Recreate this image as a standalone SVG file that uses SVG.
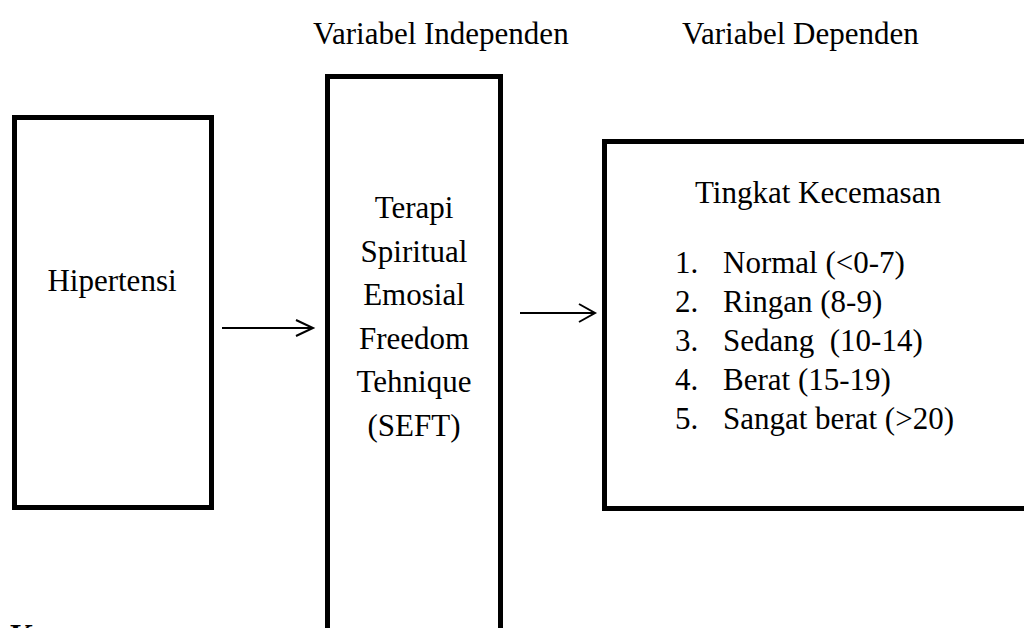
<svg xmlns="http://www.w3.org/2000/svg" width="1024" height="628" viewBox="0 0 1024 628">
<style>
.box{fill:#fff;stroke:#000;stroke-width:5}
.t{font-family:"Liberation Serif","Times New Roman",serif;font-size:31px;fill:#000;white-space:pre}
.c{text-anchor:middle}
.b{font-weight:bold}
.ln{fill:none;stroke:#000;stroke-width:2}
</style>
<rect width="1024" height="628" fill="#fff"/>
<text class="t" x="313" y="44">Variabel Independen</text>
<text class="t" x="682" y="44">Variabel Dependen</text>
<g id="hipertensi">
<rect class="box" x="14.5" y="117.5" width="197" height="390"/>
<text class="t c" x="112" y="291">Hipertensi</text>
</g>
<g id="seft">
<rect class="box" x="327.5" y="76.5" width="173" height="600"/>
<text class="t c" x="414" y="218">Terapi</text>
<text class="t c" x="414" y="262">Spiritual</text>
<text class="t c" x="414" y="305">Emosial</text>
<text class="t c" x="414" y="349">Freedom</text>
<text class="t c" x="414" y="392">Tehnique</text>
<text class="t c" x="414" y="436">(SEFT)</text>
</g>
<g id="kecemasan">
<rect class="box" x="604.5" y="141.5" width="500" height="367"/>
<text class="t" x="695" y="203">Tingkat Kecemasan</text>
<text class="t" x="675" y="273">1.</text><text class="t" x="723" y="273">Normal (&lt;0-7)</text>
<text class="t" x="675" y="312">2.</text><text class="t" x="723" y="312">Ringan (8-9)</text>
<text class="t" x="675" y="351">3.</text><text class="t" x="723" y="351" xml:space="preserve">Sedang  (10-14)</text>
<text class="t" x="675" y="390">4.</text><text class="t" x="723" y="390">Berat (15-19)</text>
<text class="t" x="675" y="429">5.</text><text class="t" x="723" y="429">Sangat berat (&gt;20)</text>
</g>
<g id="connectors">
<path class="ln" d="M222 328H313M296 320L313 328L296 336"/>
<path class="ln" d="M520 313H595M579 304L595 313L579 322"/>
</g>
<text class="t b" x="10" y="646">Ket</text>
</svg>
